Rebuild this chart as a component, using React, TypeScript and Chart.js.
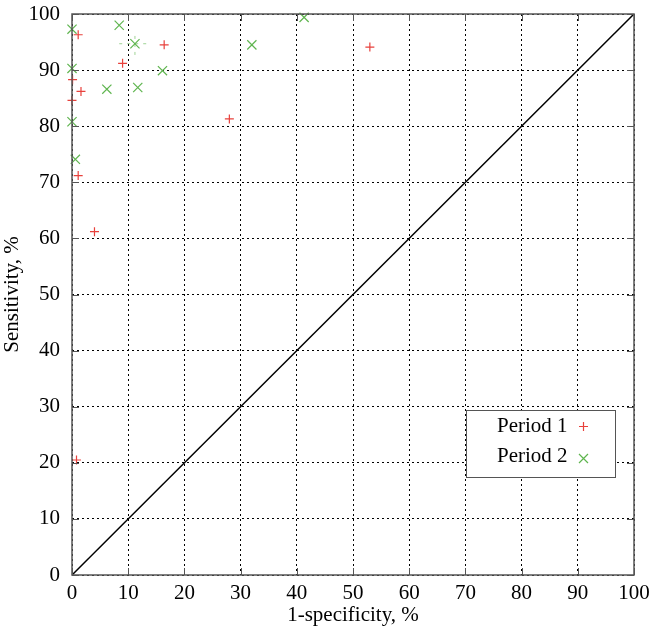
import React, { useEffect, useRef } from "react";
import { Chart, registerables } from "chart.js";

Chart.register(...registerables);

// Period 1 (red +)
const p1X = [1.1, 16.4, 9.0, 0.1, 1.6, 0.0, 28.0, 1.1, 53.0, 4.0, 0.8];
const p1Y = [96.3, 94.5, 91.2, 88.3, 86.2, 84.6, 81.3, 71.2, 94.1, 61.2, 20.5];

// Period 2 (green x)
const p2X = [0.0, 8.4, 11.2, 32.0, 0.0, 16.1, 6.2, 11.7, 0.0, 0.6, 41.3];
const p2Y = [97.3, 98.0, 94.7, 94.5, 90.3, 89.9, 86.6, 86.9, 80.8, 74.1, 99.4];

// dashed error range around one Period 2 point
const errPointX = 11.2;
const errPointY = 94.7;
const errX = [8.4, 13.9];
const errY = [92.7, 96.9];

const diagX = [0, 100];
const diagY = [0, 100];

const tickValues = [0, 10, 20, 30, 40, 50, 60, 70, 80, 90, 100];
const legendLabels = ["Period 1", "Period 2"];

const RED = "#e8413c";
const GREEN = "#5fb54f";
const FONT = "'Liberation Serif', 'DejaVu Serif', serif";
const FS = 21;

const toPts = (xs: number[], ys: number[]) => xs.map((x, i) => ({ x, y: ys[i] }));

const frameAndLegend = {
  id: "frameAndLegend",
  afterDatasetsDraw(chart: any) {
    const { ctx, chartArea: a, scales } = chart;
    const xs = scales.x;
    const ys = scales.y;
    ctx.save();
    ctx.strokeStyle = "#555";
    ctx.lineWidth = 1;
    ctx.setLineDash([]);
    tickValues.forEach((v) => {
      const px = Math.round(xs.getPixelForValue(v)) + 0.5;
      const py = Math.round(ys.getPixelForValue(v)) + 0.5;
      ctx.beginPath();
      ctx.moveTo(px, a.bottom);
      ctx.lineTo(px, a.bottom - 7);
      ctx.moveTo(px, a.top);
      ctx.lineTo(px, a.top + 7);
      ctx.moveTo(a.left, py);
      ctx.lineTo(a.left + 7, py);
      ctx.moveTo(a.right, py);
      ctx.lineTo(a.right - 7, py);
      ctx.stroke();
    });
    ctx.strokeStyle = "#555";
    ctx.lineWidth = 1.5;
    ctx.strokeRect(a.left, a.top, a.right - a.left, a.bottom - a.top);

    // legend box
    const bx = 466, by = 410, bw = 149, bh = 67;
    ctx.fillStyle = "#fff";
    ctx.fillRect(bx, by, bw, bh);
    ctx.strokeStyle = "#555";
    ctx.lineWidth = 1;
    ctx.strokeRect(bx + 0.5, by + 0.5, bw, bh);
    ctx.fillStyle = "#000";
    ctx.font = `${FS}px ${FONT}`;
    ctx.textAlign = "left";
    ctx.textBaseline = "middle";
    ctx.fillText(legendLabels[0], 497, 426);
    ctx.fillText(legendLabels[1], 497, 456);
    ctx.lineWidth = 1.2;
    ctx.strokeStyle = RED;
    ctx.beginPath();
    ctx.moveTo(579, 426.5);
    ctx.lineTo(588, 426.5);
    ctx.moveTo(583.5, 422);
    ctx.lineTo(583.5, 431);
    ctx.stroke();
    ctx.strokeStyle = GREEN;
    ctx.beginPath();
    ctx.moveTo(579, 454);
    ctx.lineTo(588, 463);
    ctx.moveTo(588, 454);
    ctx.lineTo(579, 463);
    ctx.stroke();
    ctx.restore();
  },
};

export default function App() {
  const ref = useRef<HTMLCanvasElement | null>(null);
  useEffect(() => {
    if (!ref.current) return;
    const chart = new Chart(ref.current, {
      type: "scatter",
      data: {
        datasets: [
          {
            type: "line",
            label: "diag",
            data: toPts(diagX, diagY),
            borderColor: "#000",
            borderWidth: 1.5,
            pointRadius: 0,
            showLine: true,
            order: 5,
          } as any,
          {
            type: "line",
            label: "errx",
            data: toPts(errX, [errPointY, errPointY]),
            borderColor: "rgba(95,181,79,0.6)",
            borderWidth: 1,
            borderDash: [3, 5],
            pointRadius: 0,
            showLine: true,
            order: 4,
          } as any,
          {
            type: "line",
            label: "erry",
            data: toPts([errPointX, errPointX], errY),
            borderColor: "rgba(95,181,79,0.6)",
            borderWidth: 1,
            borderDash: [3, 5],
            pointRadius: 0,
            showLine: true,
            order: 4,
          } as any,
          {
            label: legendLabels[0],
            data: toPts(p1X, p1Y),
            pointStyle: "cross",
            pointRadius: 4.5,
            borderColor: RED,
            backgroundColor: RED,
            pointBorderWidth: 1.2,
            clip: false,
            order: 1,
          },
          {
            label: legendLabels[1],
            data: toPts(p2X, p2Y),
            pointStyle: "crossRot",
            pointRadius: 6.5,
            borderColor: GREEN,
            backgroundColor: GREEN,
            pointBorderWidth: 1.2,
            clip: false,
            order: 2,
          },
        ],
      },
      options: {
        animation: false,
        responsive: false,
        maintainAspectRatio: false,
        layout: { padding: { top: 14, right: 20, left: 0, bottom: 0 } },
        plugins: {
          legend: { display: false },
          tooltip: { enabled: false },
        },
        scales: {
          x: {
            type: "linear",
            min: 0,
            max: 100,
            afterFit: (s: any) => {
              s.height = 55;
              s.paddingLeft = 0;
              s.paddingRight = 0;
            },
            afterBuildTicks: (s: any) => {
              s.ticks = tickValues.map((v) => ({ value: v }));
            },
            ticks: {
              color: "#000",
              font: { family: FONT, size: FS },
              padding: 6,
              maxRotation: 0,
            },
            grid: {
              color: "#000",
              lineWidth: 1,
              drawTicks: false,
            },
            border: { display: false, dash: [2, 3] },
            title: {
              display: true,
              text: "1-specificity, %",
              color: "#000",
              font: { family: FONT, size: FS },
              padding: { top: 0, bottom: 2 },
            },
          },
          y: {
            type: "linear",
            min: 0,
            max: 100,
            afterFit: (s: any) => {
              s.width = 72;
              s.paddingTop = 0;
              s.paddingBottom = 0;
            },
            afterBuildTicks: (s: any) => {
              s.ticks = tickValues.map((v) => ({ value: v }));
            },
            ticks: {
              color: "#000",
              font: { family: FONT, size: FS },
              padding: 12,
            },
            grid: {
              color: "#000",
              lineWidth: 1,
              drawTicks: false,
            },
            border: { display: false, dash: [2, 3] },
            title: {
              display: true,
              text: "Sensitivity, %",
              color: "#000",
              font: { family: FONT, size: FS },
              padding: { top: 0, bottom: 0 },
            },
          },
        },
      } as any,
      plugins: [frameAndLegend],
    });
    return () => chart.destroy();
  }, []);
  return (
    <div style={{ position: "fixed", left: 0, top: 0, width: 654, height: 630, background: "#fff" }}>
      <canvas ref={ref} width={654} height={630} style={{ width: 654, height: 630 }} />
    </div>
  );
}
